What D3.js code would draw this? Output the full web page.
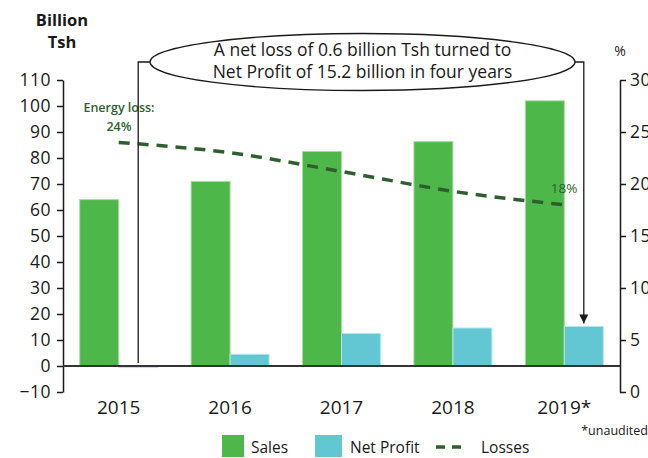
<!DOCTYPE html>
<html><head><meta charset="utf-8">
<script src="https://cdn.jsdelivr.net/npm/d3@7"></script>
<style>body{margin:0;background:#fff}svg{display:block;font-family:"Open Sans",sans-serif}</style>
</head><body><svg id="c" width="648" height="458"></svg>
<script>
const years = ["2015","2016","2017","2018","2019*"];
const sales = [64, 71, 82.5, 86.3, 102];
const netProfit = [-0.6, 4.5, 12.5, 14.6, 15.2];
const losses = [24, 23, 21.2, 19.3, 18];
const leftTicks = [-10,0,10,20,30,40,50,60,70,80,90,100,110];
const rightTicks = [0,5,10,15,20,25,30];

const svg = d3.select("#c");
const x0 = d3.scaleBand().domain(years).range([63,620]).paddingInner(0.3).paddingOuter(0.15);
const x1 = d3.scaleBand().domain(["s","p"]).range([0,x0.bandwidth()]);
const y = d3.scaleLinear().domain([-10,110]).range([392,80]);
const yr = d3.scaleLinear().domain([0,30]).range([392,80]);
const ink = "#1a1a1a";
const cSales = "#4db849", cProfit = "#63c7d3", cLoss = "#2f5f2f";

// left axis
const la = svg.append("g").attr("transform","translate(63,0)")
  .call(d3.axisLeft(y).tickValues(leftTicks).tickSize(6).tickPadding(6).tickSizeOuter(0));
la.selectAll("text").attr("font-size",17.5).attr("fill",ink).attr("font-family","Open Sans").attr("letter-spacing",0.5);
la.selectAll("line,path").attr("stroke",ink).attr("stroke-width",1.5);
// right axis
const ra = svg.append("g").attr("transform","translate(620,0)")
  .call(d3.axisRight(yr).tickValues(rightTicks).tickSize(6).tickPadding(4).tickSizeOuter(0));
ra.selectAll("text").attr("font-size",17.5).attr("fill",ink).attr("font-family","Open Sans").attr("letter-spacing",0.5);
ra.selectAll("line,path").attr("stroke",ink).attr("stroke-width",1.5);

// bars
const g = svg.append("g");
years.forEach((yr_,i)=>{
  const bx = x0(yr_);
  g.append("rect").attr("x",bx+x1("s")).attr("width",x1.bandwidth())
    .attr("y",y(Math.max(0,sales[i]))).attr("height",Math.abs(y(sales[i])-y(0)))
    .attr("fill",cSales).attr("stroke","#a8dca6").attr("stroke-width",1);
  g.append("rect").attr("x",bx+x1("p")).attr("width",x1.bandwidth())
    .attr("y",y(Math.max(0,netProfit[i]))).attr("height",Math.abs(y(netProfit[i])-y(0)))
    .attr("fill",cProfit).attr("stroke","#b4e6ec").attr("stroke-width",1);
});
// zero line
svg.append("line").attr("x1",63).attr("x2",620).attr("y1",y(0)).attr("y2",y(0))
  .attr("stroke","#333").attr("stroke-width",2);

// x labels
svg.append("g").selectAll("text").data(years).join("text")
  .attr("x",d=>x0(d)+x0.bandwidth()/2).attr("y",414).attr("text-anchor","middle")
  .attr("font-size",19).attr("fill",ink).text(d=>d);

// losses line
const line = d3.line().x((d,i)=>x0(years[i])+x0.bandwidth()/2).y(d=>yr(d)).curve(d3.curveMonotoneX);
svg.append("path").attr("d",line(losses)).attr("fill","none").attr("stroke",cLoss)
  .attr("stroke-width",3.5).attr("stroke-dasharray","11,8");

// annotations for line
svg.append("text").attr("x",119).attr("y",112).attr("text-anchor","middle").attr("font-size",12.5)
  .attr("font-weight",600).attr("fill",cLoss).text("Energy loss:");
svg.append("text").attr("x",119).attr("y",131).attr("text-anchor","middle").attr("font-size",12.5)
  .attr("font-weight",600).attr("fill",cLoss).text(losses[0]+"%");
svg.append("text").attr("x",564).attr("y",193).attr("text-anchor","middle").attr("font-size",13.5)
  .attr("fill",cLoss).text(losses[4]+"%");

// ellipse callout
const cx = 362.5, cy = 62, rx = 212.5, ry = 28.5;
const px0 = x0(years[0])+x1("p")+x1.bandwidth()/2;
const px4 = x0(years[4])+x1("p")+x1.bandwidth()/2;
svg.append("defs").append("marker").attr("id","ah").attr("viewBox","0 0 10 10").attr("refX",10).attr("refY",5)
  .attr("markerWidth",9).attr("markerHeight",9).attr("markerUnits","userSpaceOnUse").attr("orient","auto")
  .append("path").attr("d","M0,0L10,5L0,10z").attr("fill",ink);
svg.append("path").attr("d",`M${cx-rx},${cy}H${px0}V${y(0)-3}`).attr("fill","none").attr("stroke",ink).attr("stroke-width",1.3);
svg.append("path").attr("d",`M${cx+rx},${cy}H${px4}V${y(netProfit[4])-3}`).attr("fill","none").attr("stroke",ink)
  .attr("stroke-width",1.3).attr("marker-end","url(#ah)");
svg.append("ellipse").attr("cx",cx).attr("cy",cy).attr("rx",rx).attr("ry",ry)
  .attr("fill","#fff").attr("stroke",ink).attr("stroke-width",1.3);
svg.append("text").attr("x",cx).attr("y",56).attr("text-anchor","middle").attr("font-size",17.5).attr("fill",ink)
  .text("A net loss of 0.6 billion Tsh turned to");
svg.append("text").attr("x",cx).attr("y",78).attr("text-anchor","middle").attr("font-size",17.5).attr("fill",ink)
  .text("Net Profit of 15.2 billion in four years");

// axis titles
svg.append("text").attr("x",62).attr("y",26).attr("text-anchor","middle").attr("font-size",16.5)
  .attr("font-weight","bold").attr("fill",ink).text("Billion");
svg.append("text").attr("x",62).attr("y",48).attr("text-anchor","middle").attr("font-size",16.5)
  .attr("font-weight","bold").attr("fill",ink).text("Tsh");
svg.append("text").attr("x",620).attr("y",56).attr("text-anchor","middle").attr("font-size",14)
  .attr("fill",ink).text("%");

// footnote
svg.append("text").attr("x",648).attr("y",435).attr("text-anchor","end").attr("font-size",12.5)
  .attr("fill",ink).text("*unaudited");

// legend
const lg = svg.append("g");
lg.append("rect").attr("x",222).attr("y",435).attr("width",22).attr("height",22).attr("fill",cSales);
lg.append("text").attr("x",251).attr("y",453).attr("font-size",15.5).attr("fill",ink).text("Sales");
lg.append("rect").attr("x",315).attr("y",435).attr("width",27).attr("height",22).attr("fill",cProfit);
lg.append("text").attr("x",350).attr("y",453).attr("font-size",15.5).attr("fill",ink).text("Net Profit");
lg.append("line").attr("x1",436).attr("x2",468).attr("y1",447).attr("y2",447).attr("stroke",cLoss)
  .attr("stroke-width",3.5).attr("stroke-dasharray","9,7");
lg.append("text").attr("x",481).attr("y",453).attr("font-size",15.5).attr("fill",ink).text("Losses");
</script></body></html>
